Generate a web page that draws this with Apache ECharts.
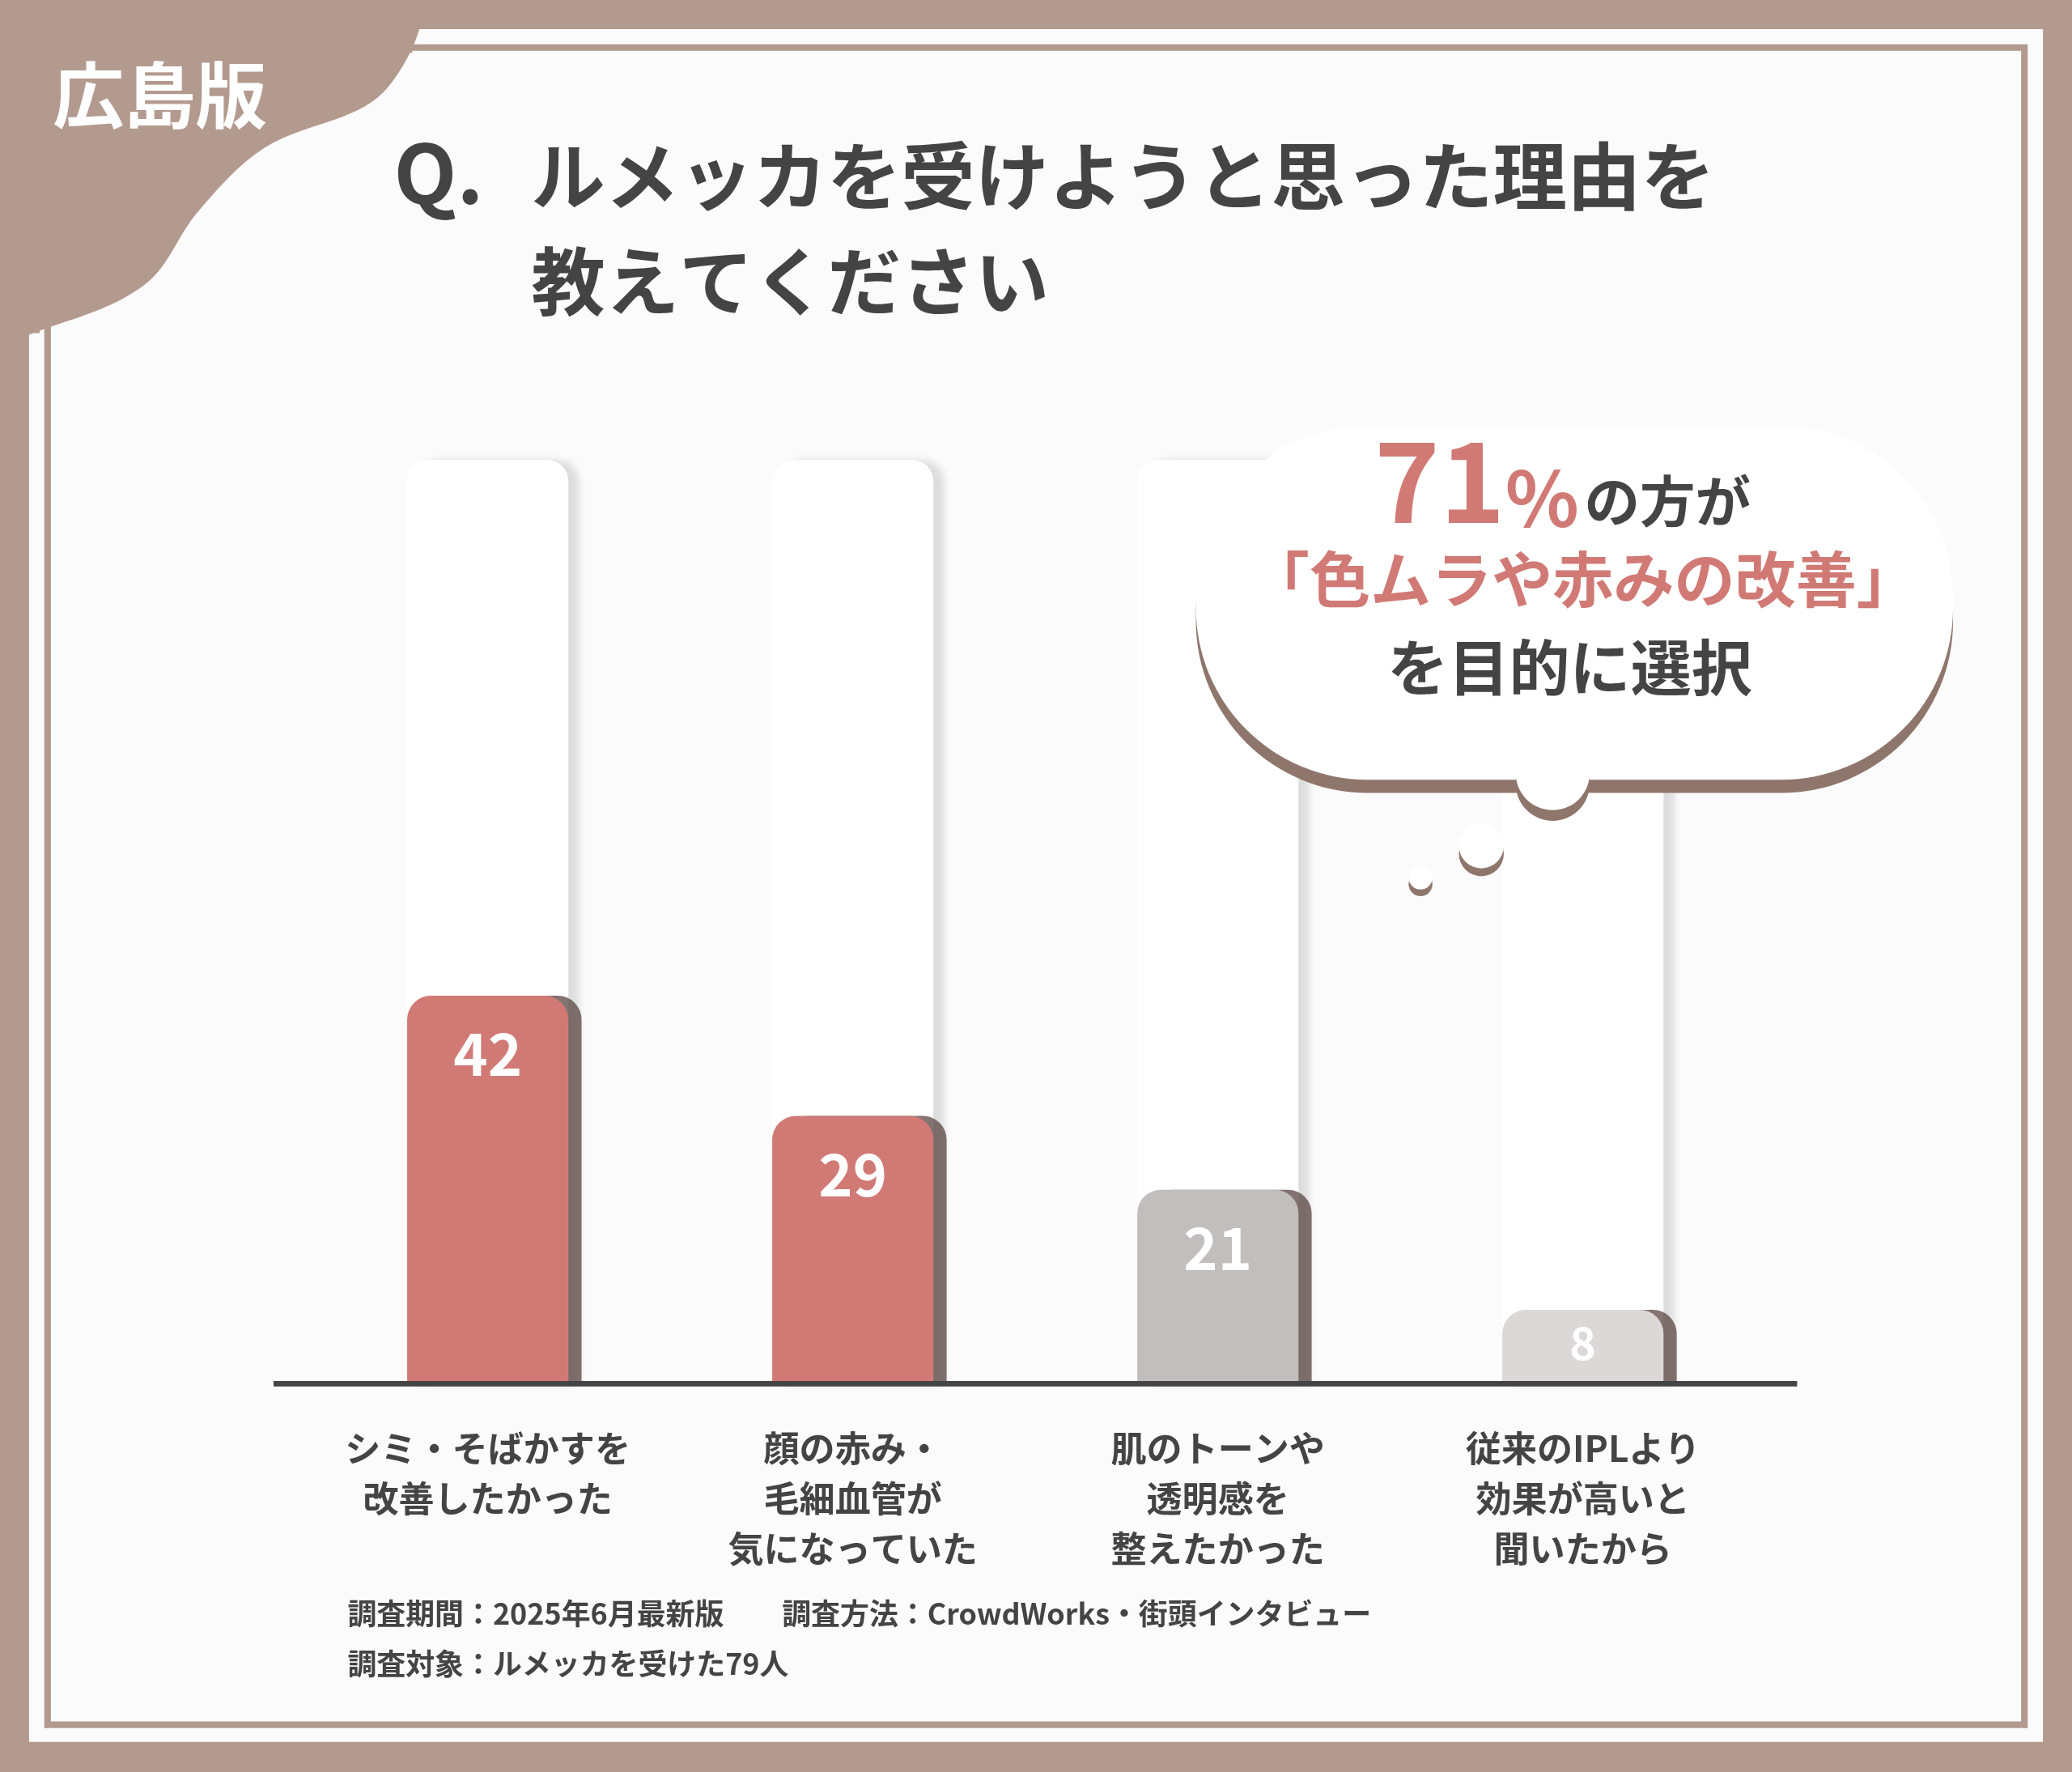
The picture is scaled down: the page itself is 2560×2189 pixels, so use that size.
<!DOCTYPE html>
<html><head><meta charset="utf-8">
<script src="https://cdn.jsdelivr.net/npm/echarts@6/dist/echarts.min.js"></script>
<style>html,body{margin:0;padding:0;background:#b39a8f}#c{width:2560px;height:2189px}</style>
</head><body><div id="c"></div>
<script>
const S = 2560 / 1568;
const p = (v) => v * S;
const FONT = "'Noto Sans CJK JP', 'Noto Sans', sans-serif";

const categories = [
  "シミ・そばかすを\n改善したかった",
  "顔の赤み・\n毛細血管が\n気になっていた",
  "肌のトーンや\n透明感を\n整えたかった",
  "従来のIPLより\n効果が高いと\n聞いたから",
];
const values = [42, 29, 21, 8];
const barColors = ["#d17a75", "#d17a75", "#c2bebd", "#dbd8d7"];
const trackMax = [100, 100, 100, 100];
const yMax = 100;

const chart = echarts.init(document.getElementById("c"));

const brown = "#b39a8f";
const dark = "#444444";
const red = "#d17a75";

const blob = [[0, 0], [312, 0], [290, 70], [200, 112], [150, 160], [110, 215], [36, 248], [0, 252]].map(([x, y]) => [p(x), p(y)]);

chart.setOption({
  backgroundColor: brown,
  animation: false,
  grid: { left: p(231), right: 2560 - p(1336), top: p(348), bottom: 2189 - p(1047) },
  xAxis: {
    type: "category",
    data: categories,
    axisLine: { show: false },
    axisTick: { show: false },
    axisLabel: {
      color: dark, fontFamily: FONT, fontWeight: "bold",
      fontSize: p(27), lineHeight: p(38), margin: p(30), interval: 0,
    },
  },
  yAxis: { type: "value", min: 0, max: yMax, show: false },
  series: [
    {
      type: "bar", data: trackMax, barWidth: p(122), barGap: "-100%", z: 1, silent: true,
      itemStyle: {
        color: "#ffffff", borderRadius: [p(16), p(16), 0, 0],
        shadowColor: "rgba(0,0,0,0.12)", shadowBlur: p(6), shadowOffsetX: p(8),
      },
    },
    {
      type: "bar", barWidth: p(122), z: 3,
      data: values.map((v, i) => ({
        value: v,
        itemStyle: { color: barColors[i] },
        label: { fontSize: i === 3 ? p(34) : p(44), distance: i === 3 ? p(8) : p(22) },
      })),
      itemStyle: {
        borderRadius: [p(18), p(18), 0, 0],
        shadowColor: "rgba(90,70,65,0.75)", shadowBlur: 0, shadowOffsetX: p(10),
      },
      label: {
        show: true, position: "insideTop", color: "#ffffff",
        fontFamily: FONT, fontWeight: "bold",
      },
    },
  ],
  graphic: [
    { type: "rect", z: -10, silent: true, shape: { x: p(22), y: p(22), width: p(1524), height: p(1296) }, style: { fill: "#fbfbfb" } },
    { type: "rect", z: -9, silent: true, shape: { x: p(36), y: p(36), width: p(1496), height: p(1269) }, style: { fill: "none", stroke: brown, lineWidth: p(5) } },
    { type: "polygon", z: 10, shape: { points: blob, smooth: 0.35 }, style: { fill: brown } },
    { type: "rect", z: 10, shape: { x: 0, y: 0, width: p(312), height: p(40) }, style: { fill: brown } },
    { type: "rect", z: 10, shape: { x: 0, y: 0, width: p(30), height: p(252) }, style: { fill: brown } },
    { type: "text", z: 11, left: p(40), top: p(45), style: { text: "広島版", fill: "#fff", font: `bold ${p(54)}px ${FONT}` } },
    { type: "text", z: 11, left: p(298), top: p(100), style: { text: "Q.", fill: dark, font: `bold ${p(62)}px ${FONT}` } },
    { type: "text", z: 11, left: p(402), top: p(105), style: { text: "ルメッカを受けようと思った理由を", fill: dark, font: `bold ${p(56)}px ${FONT}` } },
    { type: "text", z: 11, left: p(402), top: p(185), style: { text: "教えてください", fill: dark, font: `bold ${p(56)}px ${FONT}` } },
    { type: "line", z: 5, shape: { x1: p(207), y1: p(1047), x2: p(1360), y2: p(1047) }, style: { stroke: "#444", lineWidth: p(4) } },
    // bubble
    { type: "rect", z: 6, shape: { x: p(905), y: p(322), width: p(573), height: p(268), r: p(130) },
      style: { fill: "#fff", shadowColor: "#8f766c", shadowOffsetY: p(10), shadowBlur: 0 } },
    { type: "circle", z: 6, shape: { cx: p(1175), cy: p(585), r: p(28) }, style: { fill: "#fff", shadowColor: "#8f766c", shadowOffsetY: p(8) } },
    { type: "circle", z: 6, shape: { cx: p(1121), cy: p(640), r: p(17) }, style: { fill: "#fff", shadowColor: "#8f766c", shadowOffsetY: p(6) } },
    { type: "circle", z: 6, shape: { cx: p(1075), cy: p(664), r: p(9) }, style: { fill: "#fff", shadowColor: "#8f766c", shadowOffsetY: p(5) } },
    { type: "text", z: 7, left: p(1040), top: p(322), style: {
      text: "{a|71}{b|%}{c|の方が}",
      rich: {
        a: { fill: red, font: `bold ${p(84)}px ${FONT}`, verticalAlign: "bottom" },
        b: { fill: red, font: `bold ${p(58)}px ${FONT}`, verticalAlign: "bottom" },
        c: { fill: dark, font: `bold ${p(42)}px ${FONT}`, verticalAlign: "bottom", padding: [0, 0, p(6), p(4)] },
      } } },
    { type: "text", z: 7, left: p(945), top: p(415), style: { text: "「色ムラや赤みの改善」", fill: red, font: `bold ${p(46)}px ${FONT}` } },
    { type: "text", z: 7, left: p(1050), top: p(482), style: { text: "を目的に選択", fill: dark, font: `bold ${p(46)}px ${FONT}` } },
    { type: "text", z: 7, left: p(263), top: p(1210), style: { text: "調査期間：2025年6月最新版　　調査方法：CrowdWorks・街頭インタビュー", fill: dark, font: `bold ${p(22)}px ${FONT}` } },
    { type: "text", z: 7, left: p(263), top: p(1248), style: { text: "調査対象：ルメッカを受けた79人", fill: dark, font: `bold ${p(22)}px ${FONT}` } },
  ],
});
</script></body></html>
